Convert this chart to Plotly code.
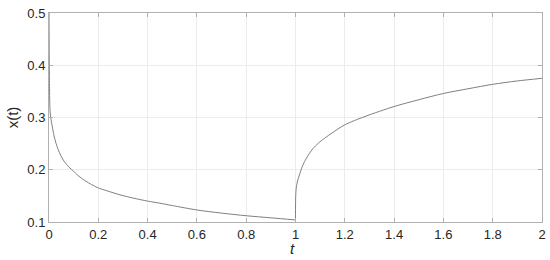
import plotly.graph_objects as go

# Data
t_decay = [0, 0.0005, 0.001, 0.002, 0.004, 0.007, 0.0135, 0.02, 0.027, 0.037, 0.047,
           0.06, 0.081, 0.1, 0.115, 0.15, 0.196, 0.24, 0.288, 0.34, 0.4, 0.45,
           0.5, 0.6, 0.7, 0.8, 0.9, 1.0]
x_decay = [0.5, 0.45, 0.41, 0.36, 0.314, 0.30, 0.282, 0.266, 0.253, 0.239, 0.228,
           0.217, 0.205, 0.197, 0.19, 0.178, 0.166, 0.159, 0.152, 0.146, 0.140, 0.136,
           0.1315, 0.123, 0.117, 0.112, 0.108, 0.104]
t_rise = [1.0, 1.0002, 1.001, 1.003, 1.006, 1.011, 1.018, 1.025, 1.037, 1.052, 1.07,
          1.093, 1.12, 1.147, 1.2, 1.282, 1.4, 1.5, 1.6, 1.7, 1.8, 1.9, 2.0]
x_rise = [0.104, 0.135, 0.152, 0.165, 0.174, 0.183, 0.193, 0.203, 0.216, 0.228, 0.24,
          0.251, 0.261, 0.27, 0.286, 0.302, 0.321, 0.334, 0.346, 0.355, 0.3635, 0.37, 0.375]

x_ticks = [0, 0.2, 0.4, 0.6, 0.8, 1, 1.2, 1.4, 1.6, 1.8, 2]
x_tick_labels = ["0", "0.2", "0.4", "0.6", "0.8", "1", "1.2", "1.4", "1.6", "1.8", "2"]
y_ticks = [0.1, 0.2, 0.3, 0.4, 0.5]
y_tick_labels = ["0.1", "0.2", "0.3", "0.4", "0.5"]

FONT = "Liberation Sans, Arial, sans-serif"

fig = go.Figure()
fig.add_trace(go.Scatter(
    x=t_decay, y=x_decay,
    mode="lines", line=dict(color="#7f7f7f", width=1, shape="spline", smoothing=0.8),
    showlegend=False,
))
fig.add_trace(go.Scatter(
    x=t_rise, y=x_rise,
    mode="lines", line=dict(color="#7f7f7f", width=1, shape="spline", smoothing=0.8),
    showlegend=False,
))

axis_common = dict(
    showline=True, linecolor="#b0b0b0", linewidth=1, mirror="ticks",
    ticks="inside", ticklen=4, tickcolor="#b0b0b0",
    showgrid=True, gridcolor="#ececec", gridwidth=1, zeroline=False,
    tickfont=dict(family=FONT, size=13, color="#262626"),
    automargin=False,
)

fig.update_layout(
    width=550, height=260,
    margin=dict(l=49, r=8, t=13, b=38),
    paper_bgcolor="white", plot_bgcolor="white",
    xaxis=dict(range=[0, 2.00001], tickvals=x_ticks, ticktext=x_tick_labels,
               **axis_common),
    yaxis=dict(range=[0.1, 0.50001], tickvals=y_ticks, ticktext=y_tick_labels,
               title=dict(text="x(t)", standoff=5,
                          font=dict(family=FONT, size=15, color="#262626")),
               **axis_common),
    annotations=[dict(
        text="<i>t</i>", x=0.989, xref="x", y=-0.125, yref="paper",
        xanchor="center", yanchor="middle", showarrow=False,
        font=dict(family=FONT, size=15, color="#262626"),
    )],
)

fig.write_html("out.html", config={"displayModeBar": False},
               post_script="document.body.style.margin='0';")
